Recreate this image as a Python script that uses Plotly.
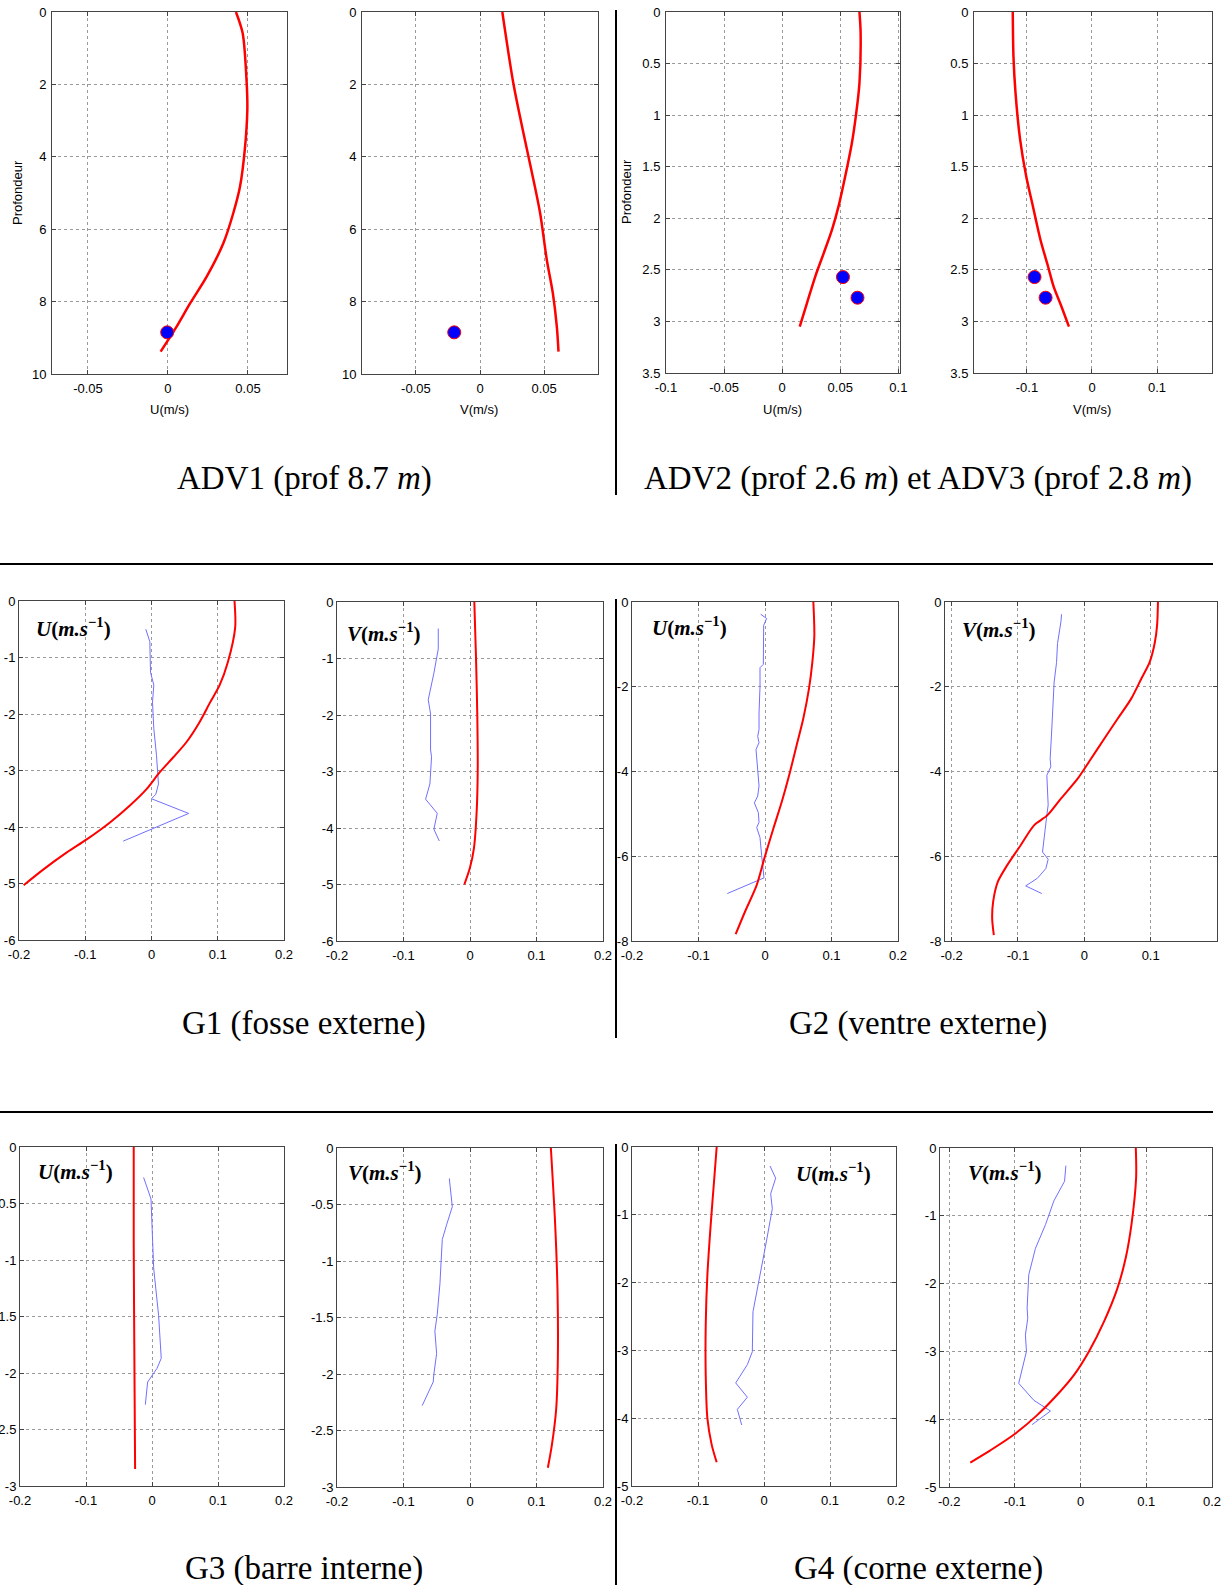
import plotly.graph_objects as go

W, H = 1225, 1585

# ---------------- DATA ----------------
# ADV1 (top-left): depth positive downward
adv1_depth = [0, 0.59, 1.97, 2.7, 3.81, 4.83, 5.56, 6.39, 7.31, 8.05, 8.69, 9.38]
adv1_u_model = [0.0425, 0.0467, 0.0492, 0.0496, 0.048, 0.045, 0.0408, 0.0346, 0.0242, 0.0138, 0.0054, -0.0046]
adv1_v_depth = [0, 1.97, 3.35, 4.64, 5.56, 6.85, 7.77, 8.69, 9.38]
adv1_v_model = [0.0174, 0.026, 0.0339, 0.0417, 0.0469, 0.0521, 0.0568, 0.0599, 0.0612]
adv1_obs_depth = [8.85]
adv1_obs_u = [-0.0005]
adv1_obs_v = [-0.0201]

# ADV2 / ADV3 (top-right)
adv23_u_depth = [0, 0.2, 0.69, 1.01, 1.27, 1.59, 1.88, 2.11, 2.34, 2.56, 2.82, 3.05]
adv23_u_model = [0.0665, 0.0675, 0.0665, 0.0634, 0.06, 0.0543, 0.0486, 0.0429, 0.0357, 0.0286, 0.0214, 0.0151]
adv23_v_depth = [0, 0.43, 0.78, 1.24, 1.59, 1.88, 2.21, 2.46, 2.66, 2.85, 3.05]
adv23_v_model = [-0.1219, -0.1208, -0.1177, -0.1105, -0.1013, -0.091, -0.0792, -0.0679, -0.0591, -0.0473, -0.0355]
adv23_obs_depth = [2.57, 2.77]
adv23_obs_u = [0.0523, 0.0648]
adv23_obs_v = [-0.0884, -0.0714]

# G1 (fosse externe)
g1_u_model_z = [0, -0.47, -1.08, -1.49, -1.79, -2.14, -2.50, -2.77, -3.03, -3.33, -3.62, -3.92, -4.22, -4.45, -4.75, -5.03]
g1_u_model = [0.1253, 0.1263, 0.1153, 0.1028, 0.0887, 0.0727, 0.0526, 0.0326, 0.0125, -0.0075, -0.0326, -0.0627, -0.0978, -0.1278, -0.163, -0.193]
g1_u_meas_z = [-0.5, -0.72, -1.26, -1.49, -1.79, -2.26, -2.73, -3.24, -3.42, -3.50, -3.76, -4.25]
g1_u_meas = [-0.0086, -0.0025, -0.0015, 0.0035, 0.0015, 0.0035, 0.0075, 0.0105, 0.0065, 0.0, 0.0561, -0.0427]
g1_v_model_z = [0, -0.97, -2.03, -2.98, -3.69, -4.35, -4.70, -5.0]
g1_v_model = [0.0065, 0.009, 0.011, 0.0116, 0.0101, 0.006, 0.0, -0.0085]
g1_v_meas_z = [-0.47, -0.83, -1.26, -1.73, -1.98, -2.62, -2.74, -3.22, -3.49, -3.74, -4.02, -4.23]
g1_v_meas = [-0.0477, -0.0477, -0.0543, -0.0628, -0.0593, -0.0593, -0.0578, -0.0603, -0.0668, -0.0492, -0.0543, -0.0462]

# G2 (ventre externe)
g2_u_model_z = [0, -0.79, -1.42, -2.04, -2.75, -3.38, -4.01, -4.72, -5.35, -6.05, -6.68, -7.31, -7.84]
g2_u_model = [0.0727, 0.0742, 0.0712, 0.0662, 0.0576, 0.0476, 0.0376, 0.0251, 0.0125, -0.001, -0.0125, -0.0301, -0.0441]
g2_u_meas_z = [-0.29, -0.39, -0.55, -1.47, -1.55, -2.0, -2.62, -3.01, -3.17, -3.32, -3.48, -4.03, -4.34, -4.58, -4.74, -4.97, -5.2, -5.32, -5.56, -5.99, -6.34, -6.51, -6.88]
g2_u_meas = [-0.0065, 0.0025, -0.002, -0.0025, -0.0075, -0.0075, -0.009, -0.009, -0.011, -0.009, -0.0135, -0.01, -0.009, -0.011, -0.016, -0.01, -0.009, -0.0125, -0.0075, -0.005, -0.002, -0.0015, -0.0567]
g2_v_model_z = [0, -0.55, -0.98, -1.42, -1.81, -2.28, -2.75, -3.22, -3.70, -4.17, -4.64, -5.03, -5.27, -5.74, -6.21, -6.6, -7.07, -7.47, -7.86]
g2_v_model = [0.111, 0.1097, 0.106, 0.0985, 0.0859, 0.0707, 0.0505, 0.0303, 0.0101, -0.01, -0.0353, -0.0555, -0.0758, -0.0959, -0.1162, -0.1303, -0.1374, -0.1389, -0.1364]
g2_v_meas_z = [-0.29, -0.47, -0.98, -1.43, -1.89, -2.51, -3.14, -3.70, -3.89, -4.09, -4.79, -5.03, -5.50, -5.90, -6.07, -6.29, -6.52, -6.7, -6.88]
g2_v_meas = [-0.0343, -0.0353, -0.0404, -0.0419, -0.0455, -0.048, -0.0495, -0.0515, -0.0505, -0.0565, -0.0545, -0.0565, -0.0606, -0.063, -0.0545, -0.058, -0.0707, -0.0884, -0.0641]

# G3 (barre interne)
g3_u_model_z = [0, -0.84, -1.87, -2.85]
g3_u_model = [-0.0277, -0.0277, -0.0267, -0.0256]
g3_u_meas_z = [-0.27, -0.46, -1.07, -1.49, -1.87, -1.96, -2.08, -2.28]
g3_u_meas = [-0.0127, -0.0015, 0.0025, 0.01, 0.014, 0.0075, -0.0066, -0.0101]
g3_v_model_z = [0, -0.68, -1.26, -1.86, -2.31, -2.63, -2.83]
g3_v_model = [0.1216, 0.1281, 0.1316, 0.1321, 0.1296, 0.1231, 0.1171]
g3_v_meas_z = [-0.27, -0.52, -0.68, -0.81, -1.2, -1.47, -1.62, -1.82, -2.0, -2.07, -2.28]
g3_v_meas = [-0.0311, -0.0266, -0.0352, -0.0417, -0.0452, -0.0492, -0.0528, -0.0502, -0.0543, -0.0553, -0.0719]

# G4 (corne externe)
g4_u_model_z = [0, -0.52, -1.15, -1.89, -2.63, -3.36, -4.0, -4.39, -4.65]
g4_u_model = [-0.0717, -0.0758, -0.0808, -0.0858, -0.0883, -0.0883, -0.0858, -0.0793, -0.0717]
g4_u_meas_z = [-0.28, -0.46, -0.69, -0.91, -1.4, -1.99, -2.43, -3.02, -3.21, -3.48, -3.69, -3.87, -4.1]
g4_u_meas = [0.0091, 0.0177, 0.0101, 0.0126, 0.0035, -0.0076, -0.0167, -0.0177, -0.0252, -0.0429, -0.0252, -0.0404, -0.0338]
g4_v_model_z = [0, -0.44, -1.13, -1.62, -2.07, -2.56, -3.0, -3.35, -3.64, -3.94, -4.23, -4.46, -4.64]
g4_v_model = [0.084, 0.0845, 0.0774, 0.0687, 0.056, 0.0356, 0.0127, -0.0102, -0.0356, -0.0661, -0.1018, -0.1374, -0.1679]
g4_v_meas_z = [-0.26, -0.49, -0.78, -1.13, -1.48, -1.87, -2.36, -2.51, -2.76, -3.0, -3.47, -3.72, -3.88, -4.08]
g4_v_meas = [-0.0224, -0.0244, -0.0407, -0.0534, -0.0687, -0.0789, -0.0814, -0.0804, -0.084, -0.0824, -0.0942, -0.0713, -0.0458, -0.0738]

# tick labels
top1_xticks = [-0.05, 0, 0.05]
top1_xtext = ["-0.05", "0", "0.05"]
top1_yticks = [0, 2, 4, 6, 8, 10]
top1_ytext = ["0", "2", "4", "6", "8", "10"]
top3_xticks = [-0.1, -0.05, 0, 0.05, 0.1]
top3_xtext = ["-0.1", "-0.05", "0", "0.05", "0.1"]
top4_xticks = [-0.1, 0, 0.1]
top4_xtext = ["-0.1", "0", "0.1"]
top3_yticks = [0, 0.5, 1, 1.5, 2, 2.5, 3, 3.5]
top3_ytext = ["0", "0.5", "1", "1.5", "2", "2.5", "3", "3.5"]
g_xticks = [-0.2, -0.1, 0, 0.1, 0.2]
g_xtext = ["-0.2", "-0.1", "0", "0.1", "0.2"]
g6_yticks = [0, -1, -2, -3, -4, -5, -6]
g6_ytext = ["0", "-1", "-2", "-3", "-4", "-5", "-6"]
g8_yticks = [0, -2, -4, -6, -8]
g8_ytext = ["0", "-2", "-4", "-6", "-8"]
g3_yticks = [0, -0.5, -1, -1.5, -2, -2.5, -3]
g3_ytext = ["0", "-0.5", "-1", "-1.5", "-2", "-2.5", "-3"]
g5_yticks = [0, -1, -2, -3, -4, -5]
g5_ytext = ["0", "-1", "-2", "-3", "-4", "-5"]

captions = ["ADV1 (prof 8.7 <i>m</i>)", "ADV2 (prof 2.6 <i>m</i>) et ADV3 (prof 2.8 <i>m</i>)",
            "G1 (fosse externe)", "G2 (ventre externe)",
            "G3 (barre interne)", "G4 (corne externe)"]

# ---------------- FIGURE ----------------
fig = go.Figure()
RED = "rgb(255,0,0)"
BLUE_L = "rgb(112,112,255)"

panels = [
    ((52, 287, 12, 374), [-0.0725, 0.0744], [10, 0], top1_xticks, top1_xtext, top1_yticks, top1_ytext, "top"),
    ((362, 598, 12, 374), [-0.092, 0.092], [10, 0], top1_xticks, top1_xtext, top1_yticks, top1_ytext, "top"),
    ((666, 900, 12, 373), [-0.1, 0.1014], [3.5, 0], top3_xticks, top3_xtext, top3_yticks, top3_ytext, "top"),
    ((974, 1212, 12, 373), [-0.1815, 0.1846], [3.5, 0], top4_xticks, top4_xtext, top3_yticks, top3_ytext, "top"),
    ((19, 284, 601, 940), [-0.2, 0.2], [-6, 0], g_xticks, g_xtext, g6_yticks, g6_ytext, "g"),
    ((337, 603, 602, 941), [-0.2, 0.2], [-6, 0], g_xticks, g_xtext, g6_yticks, g6_ytext, "g"),
    ((632, 898, 602, 941), [-0.2, 0.2], [-8, 0], g_xticks, g_xtext, g8_yticks, g8_ytext, "g"),
    ((945, 1217, 602, 941), [-0.21, 0.2], [-8, 0], g_xticks, g_xtext, g8_yticks, g8_ytext, "g"),
    ((20, 284, 1147, 1486), [-0.2, 0.2], [-3, 0], g_xticks, g_xtext, g3_yticks, g3_ytext, "g"),
    ((337, 603, 1148, 1487), [-0.2, 0.2], [-3, 0], g_xticks, g_xtext, g3_yticks, g3_ytext, "g"),
    ((632, 896, 1147, 1486), [-0.2, 0.2], [-5, 0], g_xticks, g_xtext, g5_yticks, g5_ytext, "g"),
    ((940, 1212, 1148, 1487), [-0.214, 0.2], [-5, 0], g_xticks, g_xtext, g5_yticks, g5_ytext, "g"),
]

for i, (box, xr, yr, xt, xtt, yt, ytt, style) in enumerate(panels):
    n = "" if i == 0 else str(i + 1)
    x0, x1, y0, y1 = box
    if style == "top":
        tfont = dict(family="Liberation Sans, Arial, sans-serif", size=13, color="#000")
        ystand = 2
    else:
        tfont = dict(family="Liberation Sans Narrow, Arial Narrow, Liberation Sans, sans-serif", size=13, color="#000")
        ystand = 0
    common = dict(showline=True, linecolor="#444", linewidth=1, mirror="ticks", ticks="inside",
                  ticklen=4, tickcolor="#444", showgrid=True, gridcolor="#9a9a9a", griddash="dot",
                  gridwidth=1, zeroline=False, tickfont=tfont, fixedrange=True, automargin=False)
    fig.layout["xaxis" + n] = dict(domain=[x0 / W, x1 / W], range=xr, anchor="y" + n,
                                   tickvals=xt, ticktext=xtt, ticklabelstandoff=2, **common)
    fig.layout["yaxis" + n] = dict(domain=[1 - y1 / H, 1 - y0 / H], range=yr, anchor="x" + n,
                                   tickvals=yt, ticktext=ytt, ticklabelstandoff=ystand, **common)

def line(ix, x, y, color, width, shape="linear"):
    n = "" if ix == 0 else str(ix + 1)
    fig.add_trace(go.Scatter(x=x, y=y, mode="lines", xaxis="x" + n, yaxis="y" + n,
                             line=dict(color=color, width=width, shape=shape, smoothing=0.8),
                             showlegend=False, hoverinfo="skip"))

def pts(ix, x, y):
    n = "" if ix == 0 else str(ix + 1)
    fig.add_trace(go.Scatter(x=x, y=y, mode="markers", xaxis="x" + n, yaxis="y" + n,
                             marker=dict(color="rgb(0,0,255)", size=13, line=dict(color=RED, width=1)),
                             showlegend=False, hoverinfo="skip"))

line(0, adv1_u_model, adv1_depth, RED, 2.5, "spline"); pts(0, adv1_obs_u, adv1_obs_depth)
line(1, adv1_v_model, adv1_v_depth, RED, 2.5, "spline"); pts(1, adv1_obs_v, adv1_obs_depth)
line(2, adv23_u_model, adv23_u_depth, RED, 2.5, "spline"); pts(2, adv23_obs_u, adv23_obs_depth)
line(3, adv23_v_model, adv23_v_depth, RED, 2.5, "spline"); pts(3, adv23_obs_v, adv23_obs_depth)

gsets = [
    (g1_u_meas, g1_u_meas_z, g1_u_model, g1_u_model_z),
    (g1_v_meas, g1_v_meas_z, g1_v_model, g1_v_model_z),
    (g2_u_meas, g2_u_meas_z, g2_u_model, g2_u_model_z),
    (g2_v_meas, g2_v_meas_z, g2_v_model, g2_v_model_z),
    (g3_u_meas, g3_u_meas_z, g3_u_model, g3_u_model_z),
    (g3_v_meas, g3_v_meas_z, g3_v_model, g3_v_model_z),
    (g4_u_meas, g4_u_meas_z, g4_u_model, g4_u_model_z),
    (g4_v_meas, g4_v_meas_z, g4_v_model, g4_v_model_z),
]
for k, (mx, mz, rx, rz) in enumerate(gsets):
    ix = k + 4
    line(ix, mx, mz, BLUE_L, 1)
    line(ix, rx, rz, RED, 2, "spline")

# ---------------- ANNOTATIONS ----------------
ann = []
def txt(px, py, s, size, family, angle=0, color="#000"):
    ann.append(dict(x=px / W, y=1 - py / H, xref="paper", yref="paper", text=s, showarrow=False,
                    xanchor="center", yanchor="middle", textangle=angle,
                    font=dict(size=size, family=family, color=color)))

SANS = "Liberation Sans, Arial, sans-serif"
SERIF = "Liberation Serif, Times New Roman, serif"
txt(169, 410, "U(m/s)", 13, SANS)
txt(479, 410, "V(m/s)", 13, SANS)
txt(782, 410, "U(m/s)", 13, SANS)
txt(1092, 410, "V(m/s)", 13, SANS)
txt(17, 193, "Profondeur", 13, SANS, -90)
txt(626, 192, "Profondeur", 13, SANS, -90)

lab_u = "<b><i>U</i>(<i>m.s</i><sup>−1</sup>)</b>"
lab_v = "<b><i>V</i>(<i>m.s</i><sup>−1</sup>)</b>"
for (px, py, s) in [(73, 627, lab_u), (384, 632, lab_v), (689, 626, lab_u), (999, 628, lab_v),
                    (75, 1170, lab_u), (385, 1171, lab_v), (834, 1172, lab_u), (1005, 1171, lab_v)]:
    txt(px, py, s, 21, SERIF)

for (px, py), s in zip([(304, 478), (918, 478), (304, 1023), (918, 1023), (304, 1568), (918, 1568)], captions):
    txt(px, py, s, 33, SERIF)

shapes = [
    dict(type="line", xref="paper", yref="paper", x0=616 / W, x1=616 / W, y0=1 - 10 / H, y1=1 - 495 / H,
         line=dict(color="black", width=2)),
    dict(type="line", xref="paper", yref="paper", x0=616 / W, x1=616 / W, y0=1 - 599 / H, y1=1 - 1038 / H,
         line=dict(color="black", width=2)),
    dict(type="line", xref="paper", yref="paper", x0=616 / W, x1=616 / W, y0=1 - 1144 / H, y1=0,
         line=dict(color="black", width=2)),
    dict(type="line", xref="paper", yref="paper", x0=0, x1=1213 / W, y0=1 - 564 / H, y1=1 - 564 / H,
         line=dict(color="black", width=2)),
    dict(type="line", xref="paper", yref="paper", x0=0, x1=1213 / W, y0=1 - 1112 / H, y1=1 - 1112 / H,
         line=dict(color="black", width=2)),
]

fig.update_layout(width=W, height=H, margin=dict(l=0, r=0, t=0, b=0, autoexpand=False),
                  paper_bgcolor="white", plot_bgcolor="white",
                  annotations=ann, shapes=shapes, showlegend=False)

fig.write_html("out.html", config={"displayModeBar": False},
               post_script="document.body.style.margin='0';document.body.style.overflow='hidden';")
